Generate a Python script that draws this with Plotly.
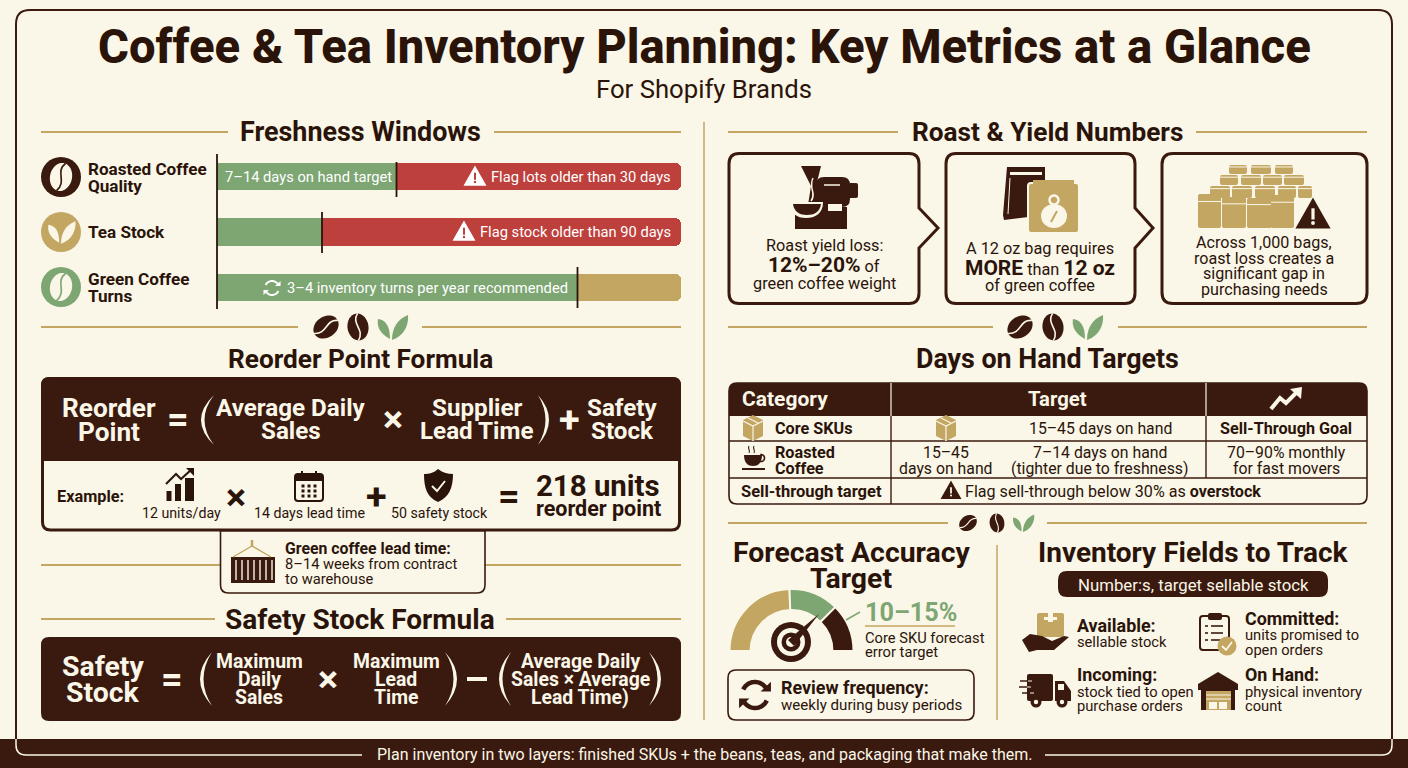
import re
import numpy as np
import plotly.graph_objects as go

# Colours
BG = '#FAF6E8'
DARK = '#3A1A0E'
INK = '#2A140A'
GOLD = '#C3A662'
GREEN = '#7DA673'
RED = '#BE403C'
FONT = 'Roboto'
FONT_SCALE = 1.05

# Freshness bars, share of the bar width up to the marker
fresh_labels = ['Roasted Coffee Quality', 'Tea Stock', 'Green Coffee Turns']
fresh_on_target = [38.8, 22.6, 77.6]
fresh_remainder = [61.2, 77.4, 22.4]
fresh_remainder_colors = [RED, RED, GOLD]

# Forecast gauge slices, bottom half stays empty
gauge_labels = ['Low', 'Target', 'High', 'Hidden']
gauge_values = [49, 26, 25, 100]
gauge_colors = [GOLD, GREEN, DARK, 'rgba(0,0,0,0)']

shapes = []
notes = []


def T(x, y, text, size=15, color=INK, bold=False, anchor='center', weight=None):
    # annotations carry about 2px of padding on the anchored side
    x = x - 2 if anchor == 'left' else x + 2 if anchor == 'right' else x
    notes.append(dict(x=x, y=y, xref='x', yref='y', text=text, showarrow=False,
                      xanchor=anchor, yanchor='middle',
                      font=dict(family=FONT, size=round(size * FONT_SCALE, 1), color=color,
                                weight=weight or (700 if bold else 400))))


def P(d, fill=None, line=None, width=0):
    s = dict(type='path', path=d, xref='x', yref='y', line=dict(width=width, color=line or 'rgba(0,0,0,0)'))
    if fill:
        s['fillcolor'] = fill
    shapes.append(s)


def L(x0, y0, x1, y1, color=GOLD, width=2):
    shapes.append(dict(type='line', x0=x0, y0=y0, x1=x1, y1=y1, xref='x', yref='y',
                       line=dict(color=color, width=width)))


def R(x0, y0, x1, y1, fill):
    shapes.append(dict(type='rect', x0=x0, y0=y0, x1=x1, y1=y1, xref='x', yref='y',
                       fillcolor=fill, line=dict(width=0)))


def C(cx, cy, r, fill, ry=None):
    ry = ry or r
    shapes.append(dict(type='circle', x0=cx - r, y0=cy - ry, x1=cx + r, y1=cy + ry, xref='x', yref='y',
                       fillcolor=fill, line=dict(width=0)))


def rr(x0, y0, x1, y1, r=8, tl=None, tr=None, br=None, bl=None):
    tl = r if tl is None else tl
    tr = r if tr is None else tr
    br = r if br is None else br
    bl = r if bl is None else bl
    return (f'M {x0+tl} {y0} L {x1-tr} {y0} Q {x1} {y0} {x1} {y0+tr} L {x1} {y1-br} Q {x1} {y1} {x1-br} {y1} '
            f'L {x0+bl} {y1} Q {x0} {y1} {x0} {y1-bl} L {x0} {y0+tl} Q {x0} {y0} {x0+tl} {y0} Z')


def poly(pts, close=True):
    d = 'M ' + ' L '.join(f'{x:.2f} {y:.2f}' for x, y in pts)
    return d + (' Z' if close else '')


def arc(cx, cy, r, a0, a1, n=24):
    a = np.radians(np.linspace(a0, a1, n))
    return [(cx + r * np.cos(t), cy - r * np.sin(t)) for t in a]


def tf(d, cx, cy, s=1.0, ang=0.0):
    # local path to page, scale then rotate then shift
    toks = re.findall(r'[A-Za-z]|-?\d+\.?\d*', d)
    out, buf = [], []
    c, sn = np.cos(np.radians(ang)), np.sin(np.radians(ang))
    for t in toks:
        if t.isalpha():
            out.append(t)
        else:
            buf.append(float(t))
            if len(buf) == 2:
                x, y = buf[0] * s, buf[1] * s
                out.append(f'{cx + x*c - y*sn:.2f} {cy + x*sn + y*c:.2f}')
                buf = []
    return ' '.join(out)


def bean(cx, cy, s, ang, fill=DARK, slit=BG):
    a = np.radians(np.linspace(0, 360, 36))
    P(tf(poly([(10.5 * np.cos(t), 13.5 * np.sin(t)) for t in a]), cx, cy, s, ang), fill=fill)
    P(tf('M 1.5 -13.5 C -7 -4 7 3 -1.5 13.5', cx, cy, s, ang), line=slit, width=1.6 * s)


def leaf(cx, cy, s, fill=GREEN, gap=BG):
    P(tf('M -2 12 C -14 6 -15 -3 -14 -8 C -7 -7 -2 -2 -2 12 Z', cx, cy, s), fill=fill)
    P(tf('M 0 13 C 0 0 6 -8 16 -12 C 17 -2 12 9 0 13 Z', cx, cy, s), fill=fill)


def ornament(y, x_beans, x_leaf, s=1.0):
    bean(x_beans[0], y, s, 55)
    bean(x_beans[1], y, s, -8)
    leaf(x_leaf, y, s)


def warn(cx, cy, s, fill='white', mark=RED):
    P(poly([(cx, cy - s), (cx + s * 1.02, cy + s * 0.8), (cx - s * 1.02, cy + s * 0.8)]), fill=fill, line=fill, width=1.5)
    R(cx - s * 0.1, cy - s * 0.42, cx + s * 0.1, cy + s * 0.28, mark)
    C(cx, cy + s * 0.5, s * 0.12, mark)


def refresh(cx, cy, r, color, w):
    for a0, a1 in ((155, 35), (335, 215)):
        P(poly(arc(cx, cy, r, a0, a1), close=False), line=color, width=w)
    h = r * 0.55
    for (x, y, sign) in ((cx + r * 0.98, cy - r * 0.3, 1), (cx - r * 0.98, cy + r * 0.3, -1)):
        P(poly([(x - sign * h, y + sign * 0.05 * h), (x + sign * h * 0.45, y + sign * 0.05 * h), (x + sign * h * 0.45, y - sign * h * 1.3)]), fill=color)


def paren(tip, belly, y0, y1, w=3.5):
    ym = (y0 + y1) / 2
    c_out = 2 * belly - tip
    c_in = 2 * (belly + np.sign(tip - belly) * w) - tip
    P(f'M {tip} {y0} Q {c_out} {ym} {tip} {y1} Q {c_in} {ym} {tip} {y0} Z', fill=BG)


def header(text, cx, y, size, l0=None, l1=None, r0=None, r1=None):
    T(cx, y, text, size, INK, True)
    if l0 is not None:
        L(l0, y, l1, y)
        L(r0, y, r1, y)


def small_bag(x0, x1, y0, y1):
    P(rr(x0, y0, x1, y1, 2), fill=GOLD)
    L(x0, y0 + (y1 - y0) * 0.22, x1, y0 + (y1 - y0) * 0.22, BG, 1)


def cube(cx, cy, s=1.0):
    P(tf('M 0 -13 L 10 -8 L 10 8 L 0 13 L -10 8 L -10 -8 Z', cx, cy, s), fill=GOLD)
    P(tf('M -10 -7 L 0 -2 L 10 -7 M 0 -2 L 0 13', cx, cy, s), line=BG, width=1.2)
    P(tf('M -5 -10 L 5 -5', cx, cy, s), line=BG, width=1.2)


# Frame and footer
P(rr(16, 10, 1392, 755, 14), line=DARK, width=2)
R(0, 739, 1408, 768, DARK)
P('M 16 739 L 16 745 Q 16 755 26 755 L 362 755', line=BG, width=1.5)
P('M 1392 739 L 1392 745 Q 1392 755 1382 755 L 1045 755', line=BG, width=1.5)
T(704, 754, 'Plan inventory in two layers: finished SKUs + the beans, teas, and packaging that make them.', 15.25, BG)

# Title
T(704, 47, 'Coffee & Tea Inventory Planning: Key Metrics at a Glance', 45, INK, weight=800)
T(704, 89, 'For Shopify Brands', 24.5, INK)
L(704, 122, 704, 720, GOLD, 1.5)

# Freshness windows
header('Freshness Windows', 360, 132, 25.6, 41, 228, 494, 681)
C(61, 177, 20, DARK)
bean(61, 177, 1.05, 12, fill=BG, slit=DARK)
C(61, 232, 20, GOLD)
leaf(61, 232, 0.9, fill=BG)
C(61, 287, 20, GREEN)
bean(61, 287, 1.05, 12, fill=BG, slit=GREEN)
T(88, 169, 'Roasted Coffee', 16.3, INK, True, 'left')
T(88, 186, 'Quality', 16.3, INK, True, 'left')
T(88, 232, 'Tea Stock', 16.3, INK, True, 'left')
T(88, 279, 'Green Coffee', 16.3, INK, True, 'left')
T(88, 296, 'Turns', 16.3, INK, True, 'left')
L(217, 154, 217, 309, INK, 1.8)
L(396.5, 162, 396.5, 197, INK, 1.8)
L(322, 212, 322, 253, INK, 1.8)
L(577.5, 267, 577.5, 308, INK, 1.8)
T(225, 177, '7–14 days on hand target', 14, 'white', False, 'left')
T(671, 177, 'Flag lots older than 30 days', 14, 'white', False, 'right')
warn(475, 177, 10)
T(671, 232, 'Flag stock older than 90 days', 14, 'white', False, 'right')
warn(464, 232, 10)
refresh(272, 288, 7, 'white', 2)
T(287, 288, '3–4 inventory turns per year recommended', 14, 'white', False, 'left')

ornament(327, (326, 358), 392)
L(41, 327, 298, 327)
L(422, 327, 681, 327)

# Reorder point formula
header('Reorder Point Formula', 360, 359, 25)
P(rr(42.5, 378.5, 679.5, 530, 8), fill=BG, line=DARK, width=3)
P(rr(41, 377, 681, 461, 8, bl=0, br=0), fill=DARK)
for txt, cx, ys, sz in (
    (('Reorder', 'Point'), 109, (408, 432), 25),
    (('Average Daily', 'Sales'), 291, (408, 431), 23),
    (('Supplier', 'Lead Time'), 477, (408, 431), 23),
    (('Safety', 'Stock'), 622, (408, 431), 23),
):
    for t_, y_ in zip(txt, ys):
        T(cx, y_, t_, sz, BG, True)
T(178, 419, '=', 36, BG, True)
paren(214, 201, 395, 445)
T(393, 419, '×', 36, BG, True)
paren(538, 549, 395, 445)
T(569, 419, '+', 36, BG, True)

T(57, 496, 'Example:', 15.5, INK, True, 'left')
for x_, w_, y_ in ((166.5, 5, 491), (175, 6, 484), (185, 9, 478)):
    R(x_, y_, x_ + w_, 501, INK)
P('M 166 484 L 176 474 L 181 479 L 192 469', line=INK, width=2)
P('M 186 468 L 194 468 L 194 476 Z', fill=INK)
T(181, 513, '12 units/day', 13.5, INK)
T(236, 497, '×', 36, INK, True)
P(rr(295, 474, 323, 501, 3), fill=BG, line=INK, width=2)
R(295, 474, 323, 481, INK)
L(302, 471, 302, 477, INK, 2)
L(316, 471, 316, 477, INK, 2)
for dx in (303, 309, 315):
    for dy in (486, 491, 496):
        R(dx - 1.5, dy - 1.5, dx + 1.5, dy + 1.5, INK)
T(309, 513, '14 days lead time', 13.5, INK)
T(376, 496, '+', 36, INK, True)
P('M 438 469 C 443 473 448 474 453 474 C 453 488 449 497 438 502 C 427 497 424 488 424 474 C 429 474 434 473 438 469 Z', fill=INK)
P('M 432 486 L 437 491 L 445 481', line=BG, width=2)
T(439, 513, '50 safety stock', 13.5, INK)
T(509, 496, '=', 36, INK, True)
T(598, 486, '218 units', 28, INK, True)
T(598, 508, 'reorder point', 20.5, INK, True)

# Lead time callout
L(41, 565, 220, 565)
L(485, 565, 681, 565)
P(rr(220.5, 531, 485, 593, 8, tl=0, tr=0), fill=BG, line=DARK, width=1.6)
R(231, 557, 275, 583, DARK)
for sx in range(236, 274, 6):
    L(sx, 560, sx, 580, BG, 1.4)
P('M 233 557 L 252 546 L 271 557', line=GOLD, width=1.4)
L(252, 540, 252, 547, GOLD, 2.5)
T(285, 548, 'Green coffee lead time:', 15, INK, True, 'left')
T(285, 564, '8–14 weeks from contract', 14, INK, False, 'left')
T(285, 579, 'to warehouse', 14, INK, False, 'left')

# Safety stock formula
header('Safety Stock Formula', 360, 619, 26.7, 41, 215, 506, 681)
P(rr(41, 637, 681, 721, 8), fill=DARK)
T(103, 666, 'Safety', 27, BG, True)
T(103, 692, 'Stock', 27, BG, True)
T(172, 679, '=', 36, BG, True)
paren(212, 200, 652, 706)
for cx, txts in ((259, ('Maximum', 'Daily', 'Sales')), (396, ('Maximum', 'Lead', 'Time')),
                 (580, ('Average Daily', 'Sales × Average', 'Lead Time)'))):
    for t_, y_ in zip(txts, (661, 679, 697)):
        T(cx, y_, t_, 18.5, BG, True)
T(328, 679, '×', 36, BG, True)
paren(445, 457, 652, 706)
R(467, 677, 487, 681, BG)
paren(511, 499, 652, 706)
paren(649, 661, 652, 706)

# Roast and yield
header('Roast & Yield Numbers', 1047, 132, 25, 728, 898, 1196, 1367)
for x0, x1, tip in ((729, 919, 938), (946, 1135, 1153)):
    P(f'M {x0+10} 153.5 L {x1-10} 153.5 Q {x1} 153.5 {x1} 164 L {x1} 208 L {tip} 228 L {x1} 248 L {x1} 293 '
      f'Q {x1} 303.5 {x1-10} 303.5 L {x0+10} 303.5 Q {x0} 303.5 {x0} 293 L {x0} 164 Q {x0} 153.5 {x0+10} 153.5 Z',
      line=DARK, width=3)
P(rr(1162, 153.5, 1367, 303.5, 11), line=DARK, width=3)

# roaster
P(rr(816, 177, 850, 207, 8), fill=DARK)
P('M 801 166 L 821 166 L 817 182 L 818 205 L 808 205 L 811 186 Z', fill=DARK)
R(850, 183, 854, 198, DARK)
P(rr(853, 183, 858, 198, 2), fill=DARK)
R(795, 207, 847, 229, DARK)
P('M 790 202 L 823 202 C 823 214 815 218 806 218 C 797 218 790 214 790 202 Z', fill=BG)
P('M 793 204 L 821 204 C 820 212 814 215 807 215 C 800 215 794 212 793 204 Z', fill=DARK)
R(828, 204, 842, 211, BG)
L(824, 185, 840, 185, BG, 1.5)
P('M 813 178 C 808 188 817 193 811 201', line=BG, width=1.5)
T(824, 245, 'Roast yield loss:', 15.5, INK)
T(824, 265, '<span style="font-size:21px;font-weight:700">12%–20%</span> of', 15.5, INK)
T(824, 283, 'green coffee weight', 15.5, INK)

# bags
P('M 1007 167 L 1045 167 L 1045 215 L 1004 220 L 1003 215 Z', fill=DARK)
R(1010, 172, 1042, 175, BG)
P('M 1010 178 L 1008 214', line=BG, width=1)
P(rr(1028, 183, 1079, 233, 3), fill=GOLD, line=BG, width=2)
R(1033, 180, 1074, 187, GOLD)
C(1054, 216, 13, BG, 12)
P(poly(arc(1054, 200, 4.5, 0, 360), close=True), line=BG, width=2.5)
L(1051, 222, 1057, 211, GOLD, 2)
T(1040, 248, 'A 12 oz bag requires', 15.5, INK)
T(1040, 268, '<span style="font-size:21px;font-weight:700">MORE</span> than <span style="font-size:21px;font-weight:700">12 oz</span>', 15.5, INK)
T(1040, 285, 'of green coffee', 15.5, INK)

# pile of bags
for rng, y0, y1 in (
    (((1229, 1247), (1251, 1271), (1275, 1293)), 165, 174),
    (((1220, 1238), (1241, 1261), (1263, 1282), (1284, 1304)), 175, 185),
    (((1210, 1230), (1232, 1252), (1255, 1275), (1278, 1296), (1298, 1312)), 186, 198),
):
    for a_, b_ in rng:
        small_bag(a_, b_, y0, y1)
for a_, b_, y0 in ((1198, 1221, 194), (1222, 1246, 197), (1247, 1272, 198), (1271, 1294, 195)):
    small_bag(a_, b_, y0, 228)
warn(1313, 215, 16, DARK, BG)
for i_, t_ in enumerate(('Across 1,000 bags,', 'roast loss creates a', 'significant gap in', 'purchasing needs')):
    T(1264, (242, 258, 273, 289)[i_], t_, 15.3, INK)

ornament(327, (1020, 1053), 1087)
L(728, 327, 993, 327)
L(1118, 327, 1367, 327)

# Days on hand table
header('Days on Hand Targets', 1047, 359, 25.5)
P(rr(729, 383, 1367, 504, 8), fill=BG, line=DARK, width=1.6)
P(rr(729, 383, 1367, 416, 8, bl=0, br=0), fill=DARK)
L(729, 441, 1367, 441, DARK, 1.4)
L(729, 478, 1367, 478, DARK, 1.4)
L(891, 383, 891, 504, DARK, 1.4)
L(1206, 416, 1206, 478, DARK, 1.4)
L(891, 383, 891, 416, BG, 1.2)
L(1206, 383, 1206, 416, BG, 1.2)
T(742, 399, 'Category', 20, BG, True, 'left')
T(1057, 399, 'Target', 19.3, BG, True)
P('M 1271 409 L 1280 398 L 1286 403 L 1297 392', line=BG, width=4)
P('M 1290 389 L 1302 387 L 1301 399 Z', fill=BG)
cube(753, 428)
T(775, 428, 'Core SKUs', 15.4, INK, True, 'left')
cube(946, 428)
T(1100, 428, '15–45 days on hand', 15, INK)
T(1286, 428, 'Sell-Through Goal', 15.4, INK, True)
P('M 744 455 L 762 455 C 762 463 758 466 753 466 C 748 466 744 463 744 455 Z', fill=DARK)
P(poly(arc(761, 458, 3.5, 90, -120)), line=DARK, width=1.6)
R(742, 468, 765, 470, DARK)
P('M 749 446 C 747 449 751 450 749 453 M 754 446 C 752 449 756 450 754 453', line=DARK, width=1.1)
T(775, 452, 'Roasted', 15.4, INK, True, 'left')
T(775, 468, 'Coffee', 15.4, INK, True, 'left')
T(946, 452, '15–45', 15, INK)
T(946, 468, 'days on hand', 15, INK)
T(1100, 452, '7–14 days on hand', 15, INK)
T(1100, 468, '(tighter due to freshness)', 15, INK)
T(1286, 452, '70–90% monthly', 15, INK)
T(1286, 468, 'for fast movers', 15, INK)
T(811, 491, 'Sell-through target', 15.7, INK, True)
warn(951, 491, 9, DARK, BG)
T(965, 491, 'Flag sell-through below 30% as <b>overstock</b>', 15.3, INK, False, 'left')

ornament(523, (968, 997), 1023, 0.7)
L(728, 523, 948, 523)
L(1047, 523, 1367, 523)

# Forecast accuracy
T(851, 552, 'Forecast Accuracy', 27, INK, True)
T(851, 578, 'Target', 27, INK, True)
L(997, 545, 997, 720, GOLD, 1.5)
C(791, 642, 20, DARK)
C(791, 642, 14, BG)
C(791, 642, 9.5, DARK)
C(791, 642, 5, BG)
P('M 819 614 L 794 646 L 788 640 Z', fill=DARK)
L(846, 620, 860, 612, GREEN, 1.6)
T(865, 612, '10–15%', 24, GREEN, True, 'left')
L(865, 626, 955, 626, GOLD, 1.6)
T(865, 638, 'Core SKU forecast', 14, INK, False, 'left')
T(865, 652, 'error target', 14, INK, False, 'left')
P(rr(728, 670, 974, 720, 8), line=DARK, width=1.6)
refresh(755, 695, 13, DARK, 4.5)
T(781, 687, 'Review frequency:', 17, INK, True, 'left')
T(781, 705, 'weekly during busy periods', 14.4, INK, False, 'left')

# Inventory fields
T(1193, 552, 'Inventory Fields to Track', 26.7, INK, True)
P(rr(1058, 571, 1328, 597, 9), fill=DARK)
T(1193, 585, 'Number:s, target sellable stock', 16, BG)

P(rr(1037, 613, 1064, 637, 2), fill=GOLD)
R(1048, 613, 1053, 622, BG)
R(1044, 617, 1057, 620, BG)
P('M 1022 640 L 1030 634 L 1042 636 L 1052 641 L 1064 636 L 1069 637 L 1054 650 L 1037 650 L 1029 652 Z', fill=DARK)
T(1077, 625, 'Available:', 17, INK, True, 'left')
T(1077, 642, 'sellable stock', 14, INK, False, 'left')

P(rr(1200, 616, 1229, 650, 3), fill=BG, line=DARK, width=2)
P(rr(1208, 613, 1222, 620, 2), fill=DARK)
for y_ in (626, 633, 640):
    L(1205, y_, 1208, y_, DARK, 1.6)
    L(1211, y_, 1223, y_, DARK, 1.6)
C(1227, 646, 9.5, GOLD)
P('M 1222 646 L 1226 650 L 1232 642', line=BG, width=1.8)
T(1245, 618, 'Committed:', 17, INK, True, 'left')
T(1245, 635, 'units promised to', 14, INK, False, 'left')
T(1245, 650, 'open orders', 14, INK, False, 'left')

P(rr(1027, 674, 1053, 701, 2), fill=DARK)
P('M 1055 681 L 1064 681 L 1071 691 L 1071 701 L 1055 701 Z', fill=DARK)
R(1058, 684, 1064, 690, BG)
for y_, x_ in ((681, 1020), (687, 1019), (693, 1022)):
    L(x_, y_, x_ + 12, y_, DARK, 1.5)
    L(x_ + 8, y_, x_ + 12, y_, BG, 1)
C(1036, 702, 5.5, DARK)
C(1036, 702, 2.2, BG)
C(1062, 702, 5.5, DARK)
C(1062, 702, 2.2, BG)
T(1077, 674, 'Incoming:', 17, INK, True, 'left')
T(1077, 692, 'stock tied to open', 14, INK, False, 'left')
T(1077, 706, 'purchase orders', 14, INK, False, 'left')

P('M 1218 672 L 1238 684 L 1238 690 L 1198 690 L 1198 684 Z', fill=DARK)
R(1201, 690, 1235, 710, DARK)
R(1206, 691, 1231, 710, GOLD)
L(1206, 695, 1231, 695, BG, 1)
L(1206, 699, 1231, 699, BG, 1)
for bx in (1209, 1219):
    R(bx, 702, bx + 8, 709, BG)
T(1245, 674, 'On Hand:', 17, INK, True, 'left')
T(1245, 692, 'physical inventory', 14, INK, False, 'left')
T(1245, 706, 'count', 14, INK, False, 'left')

fig = go.Figure()
fig.add_trace(go.Bar(y=fresh_labels, x=fresh_on_target, orientation='h', xaxis='x2', yaxis='y2',
                     marker=dict(color=GREEN, line=dict(width=0)), width=0.5, showlegend=False, hoverinfo='skip'))
fig.add_trace(go.Bar(y=fresh_labels, x=fresh_remainder, orientation='h', xaxis='x2', yaxis='y2',
                     marker=dict(color=fresh_remainder_colors, line=dict(width=0)), width=0.5,
                     showlegend=False, hoverinfo='skip'))
fig.add_trace(go.Pie(labels=gauge_labels, values=gauge_values, hole=0.66, sort=False, direction='clockwise',
                     rotation=-90, textinfo='none', hoverinfo='skip', showlegend=False,
                     marker=dict(colors=gauge_colors, line=dict(color=BG, width=2)),
                     domain=dict(x=[729.5 / 1408, 853.5 / 1408], y=[1 - 713 / 768, 1 - 589 / 768])))

fig.update_layout(
    width=1408, height=768, margin=dict(l=0, r=0, t=0, b=0),
    paper_bgcolor=BG, plot_bgcolor='rgba(0,0,0,0)',
    barmode='stack', barcornerradius=6,
    xaxis=dict(range=[0, 1408], visible=False, fixedrange=True),
    yaxis=dict(range=[768, 0], visible=False, fixedrange=True),
    xaxis2=dict(domain=[217 / 1408, 681 / 1408], range=[0, 100], anchor='y2', visible=False, fixedrange=True),
    yaxis2=dict(domain=[1 - 315.25 / 768, 1 - 148.75 / 768], type='category', range=[2.5, -0.5], anchor='x2',
                visible=False, fixedrange=True),
    shapes=shapes, annotations=notes,
)

fig.write_html("out.html", config=dict(displayModeBar=False),
               post_script="document.body.style.margin='0';")
